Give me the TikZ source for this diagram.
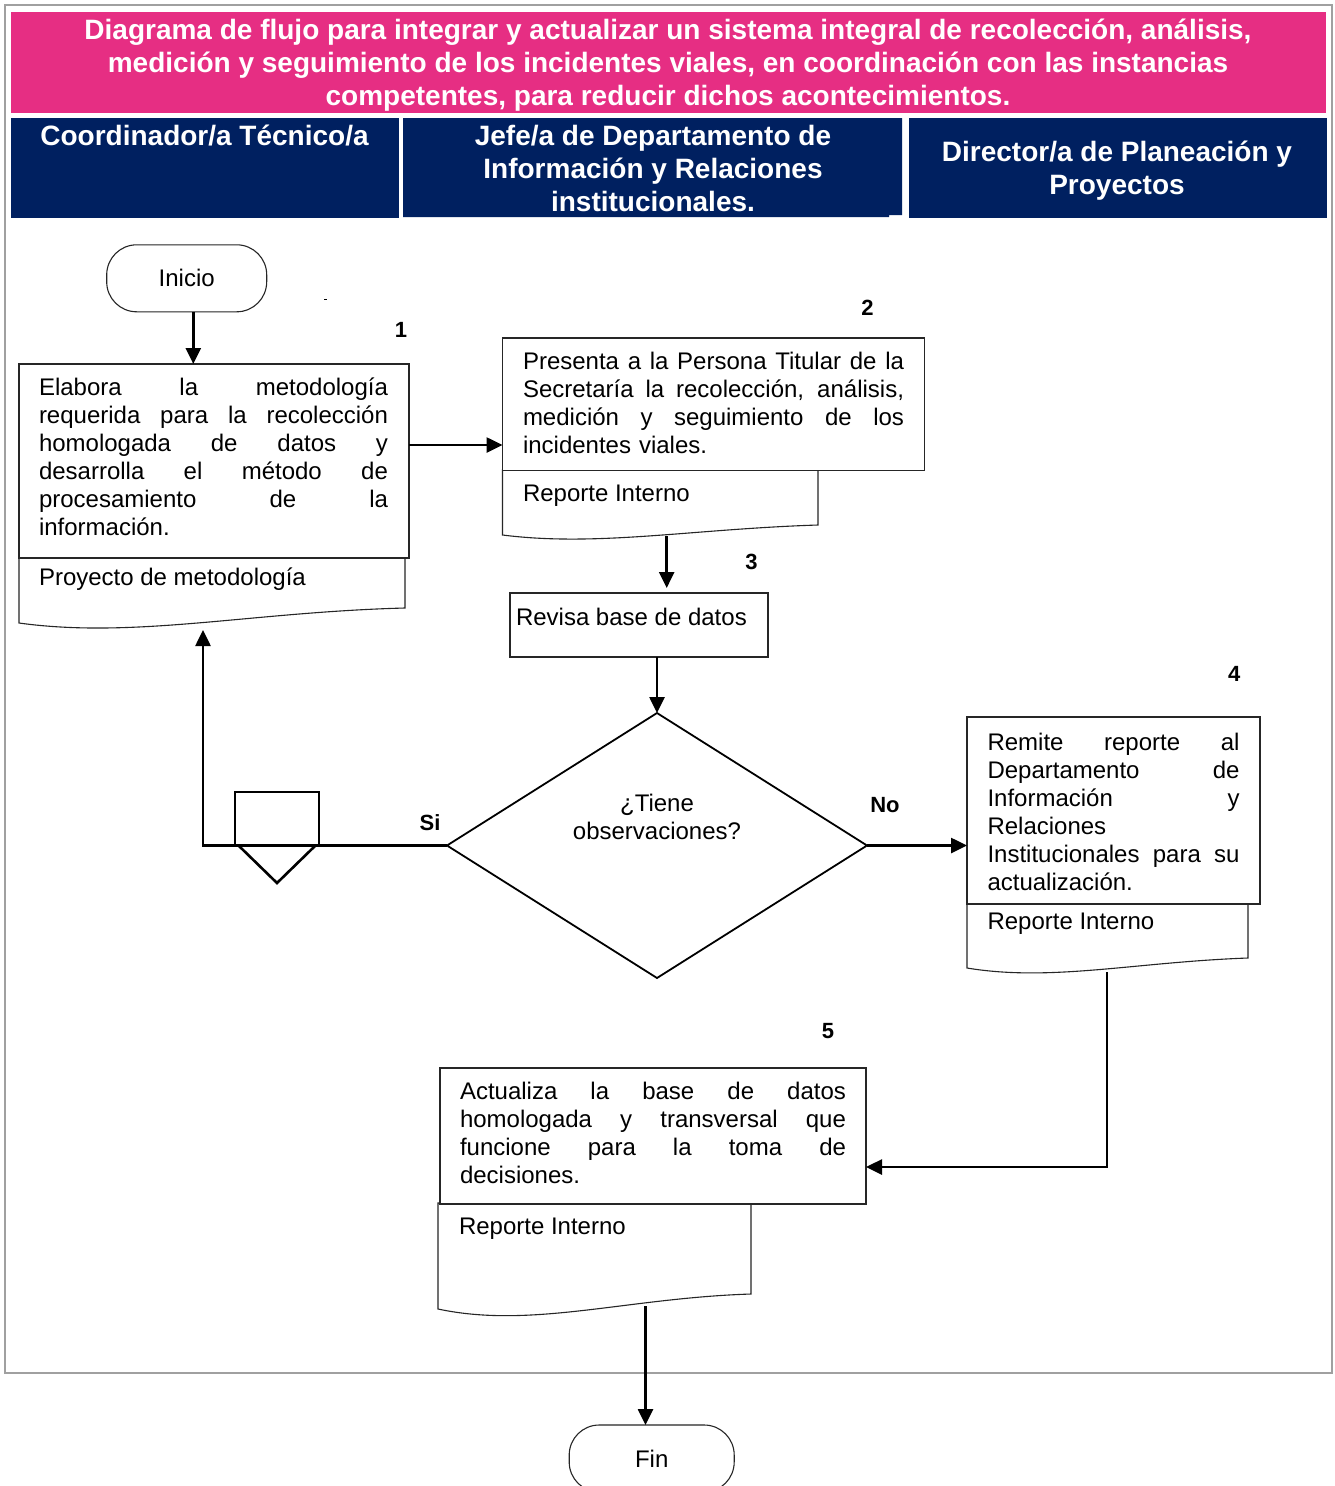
\documentclass[tikz,border=0pt]{standalone}
\usepackage{fontspec}
\setmainfont{Liberation Sans}
\usetikzlibrary{arrows.meta,shapes.geometric,calc}
\definecolor{titlepink}{RGB}{230,46,131}
\definecolor{headnavy}{RGB}{0,32,96}
\definecolor{framegray}{RGB}{160,160,160}
\newcommand\bodyfnt{\fontsize{24}{28}\selectfont}
\newcommand\headfnt{\fontsize{28}{33}\selectfont\bfseries}
\newcommand\numfnt{\fontsize{22}{26}\selectfont\bfseries}
% one justified line of a fixed width: the word spaces stretch evenly
\newcommand\jl[2]{\leavevmode\hbox to #1{\spaceskip=0.28em plus 1fil\relax #2}}
% document symbol: x0, x1, top, right bottom, left bottom, dip of the wave
\newcommand\docshape[6]{%
  \path[docline] (#2,#3) -- (#1,#3) -- (#1,#5)
    .. controls ({#1+0.3*(#2-#1)},{#5+#6}) and ({#1+0.6*(#2-#1)},{#4+4}) .. (#2,#4) -- cycle;}

\begin{document}
\begin{tikzpicture}[x=1pt,y=-1pt,
  lanebg/.style={fill=headnavy, draw=none, inner sep=0pt, outer sep=0pt},
  headtxt/.style={text=white, font=\headfnt, align=center, inner sep=0pt, anchor=north},
  box/.style={rectangle, draw=black!85, line width=1.3pt, fill=white, inner sep=0pt, outer sep=0pt},
  term/.style={rectangle, rounded corners=30pt, draw=black!85, line width=1.1pt, fill=white,
               inner sep=0pt, outer sep=0pt, minimum height=67pt, font=\bodyfnt},
  txt/.style={inner sep=0pt, outer sep=0pt, anchor=north west, align=left, font=\bodyfnt},
  num/.style={font=\numfnt, inner sep=0pt, anchor=base},
  docline/.style={draw=black!85, line width=1.1pt, fill=white},
  conn/.style={line width=2.6pt, -{Triangle[length=16pt,width=15pt]}},
  wire/.style={line width=2.6pt}
]
\useasboundingbox (0,0) rectangle (1335,1486);
\fill[white] (0,0) rectangle (1335,1486);

% outer frame
\draw[framegray, line width=2pt] (5,5) rectangle (1332,1373);

% title band
\node[fill=titlepink, inner sep=0pt, outer sep=0pt, minimum width=1315pt, minimum height=101pt] (title) at (668.5,62.5) {};
\node[headtxt] (titletxt) at (668,16.4) {\strut Diagrama de flujo para integrar y actualizar un sistema integral de recolección, análisis,\\
  medición y seguimiento de los incidentes viales, en coordinación con las instancias\\
  competentes, para reducir dichos acontecimientos.};

% lane headers
\node[lanebg, minimum width=388pt, minimum height=100pt] (lane1) at (204.75,168) {};
\fill[headnavy] (403,118) rectangle (902,215) (403,215) rectangle (889,217);
\coordinate (lane2) at (652.5,167);
\node[lanebg, minimum width=418pt, minimum height=100pt] (lane3) at (1118,168) {};
\node[headtxt] (h1) at (204.5,121.9) {\strut Coordinador/a Técnico/a};
\node[headtxt] (h2) at (653,121.9) {\strut Jefe/a de Departamento de\\Información y Relaciones\\institucionales.};
\node[headtxt] (h3) at (1117,138.6) {\strut Director/a de Planeación y\\Proyectos};

% document symbols under the activity boxes
\docshape{19}{405}{558}{608}{623}{16}
\docshape{502.5}{818}{470}{525}{535}{12}
\docshape{967}{1248}{904}{958}{968}{14}
\docshape{438}{751}{1203}{1294}{1309}{20}

% activity boxes
\node[box, minimum width=390pt, minimum height=194pt] (box1) at (214,461) {};
\node[box, minimum width=422pt, minimum height=132.5pt] (box2) at (713.5,404.25) {};
\node[box, minimum width=258pt, minimum height=64pt] (box3) at (639,625) {};
\node[box, minimum width=293pt, minimum height=187pt] (box4) at (1113.5,810.5) {};
\node[box, minimum width=426pt, minimum height=136pt] (box5) at (653,1136) {};

% decision
\node[diamond, draw=black, line width=1.8pt, fill=white, inner sep=0pt, outer sep=0pt,
      minimum width=420pt, minimum height=265pt] (dia) at (657,845.5) {};
\node[font=\bodyfnt, align=center, inner sep=0pt, anchor=north] (qtxt) at (657,791.4) {\strut ¿Tiene\\observaciones?};

% terminals
\node[term, minimum width=160pt] (ini) at (186.7,278.3) {Inicio};
\node[term, minimum width=165pt] (fin) at (651.7,1458.5) {Fin};

% texts of the boxes
\node[txt, text width=349pt] (t1) at (39,376) {\strut\jl{349pt}{Elabora la metodología}\\
  \jl{349pt}{requerida para la recolección}\\
  \jl{349pt}{homologada de datos y}\\
  \jl{349pt}{desarrolla el método de}\\
  \jl{349pt}{procesamiento de la}\\
  información.};
\node[txt] (d1) at (39,565.4) {\strut Proyecto de metodología};

\node[txt, text width=381pt] (t2) at (523,349.4) {\strut\jl{381pt}{Presenta a la Persona Titular de la}\\
  \jl{381pt}{Secretaría la recolección, análisis,}\\
  \jl{381pt}{medición y seguimiento de los}\\
  incidentes viales.};
\node[txt] (d2) at (523,482) {\strut Reporte Interno};

\node[txt] (t3) at (516,605.4) {\strut Revisa base de datos};

\node[txt, text width=252pt] (t4) at (987.5,730.4) {\strut\jl{252pt}{Remite reporte al}\\
  \jl{252pt}{Departamento de}\\
  \jl{252pt}{Información y}\\
  Relaciones\\
  \jl{252pt}{Institucionales para su}\\
  actualización.};
\node[txt] (d4) at (987.5,909.7) {\strut Reporte Interno};

\node[txt, text width=386pt] (t5) at (460,1079.7) {\strut\jl{386pt}{Actualiza la base de datos}\\
  \jl{386pt}{homologada y transversal que}\\
  \jl{386pt}{funcione para la toma de}\\
  decisiones.};
\node[txt] (d5) at (459,1214.7) {\strut Reporte Interno};

% step numbers and branch labels
\node[num] (n1) at (401,337) {1};
\node[num] (n2) at (867.5,315) {2};
\node[num] (n3) at (751.5,569.3) {3};
\node[num] (n4) at (1234.3,681.7) {4};
\node[num] (n5) at (828,1038) {5};
\node[num] (si) at (430,830) {Si};
\node[num] (no) at (885,812.7) {No};

% small stray mark near the start
\draw[line width=0.8pt] (324,299) -- (327,299);

% connector ends on the document symbols
\coordinate (doc1in) at (203,630);
\coordinate (doc2out) at (666.7,536);
\coordinate (doc4out) at (1107,972);
\coordinate (doc5out) at (645.5,1306);

% off-page connector on the "Si" branch
\draw[wire, line join=miter, fill=white] (235,845) -- (235,792) -- (319,792) -- (319,845);
\draw[wire, line join=miter] (238,845) -- (277,883) -- (316,845);

% connectors
\draw[conn] ([xshift=6.6pt]ini.south) -- ([xshift=6.6pt]ini.south |- box1.north);
\draw[conn] ([yshift=16pt]box1.east) -- ([yshift=16pt]box1.east -| box2.west);
\draw[conn, shorten >=5pt] (doc2out) -- (doc2out |- box3.north);
\draw[conn] (box3.south -| dia.north) -- (dia.north);
\draw[conn] (dia.west) -| (doc1in);
\draw[conn] (dia.east) -- (dia.east -| box4.west);
\draw[conn] (doc4out) |- ([yshift=-31pt]box5.east);
\draw[conn] (doc5out) -- (doc5out |- fin.north);
\end{tikzpicture}
\end{document}
